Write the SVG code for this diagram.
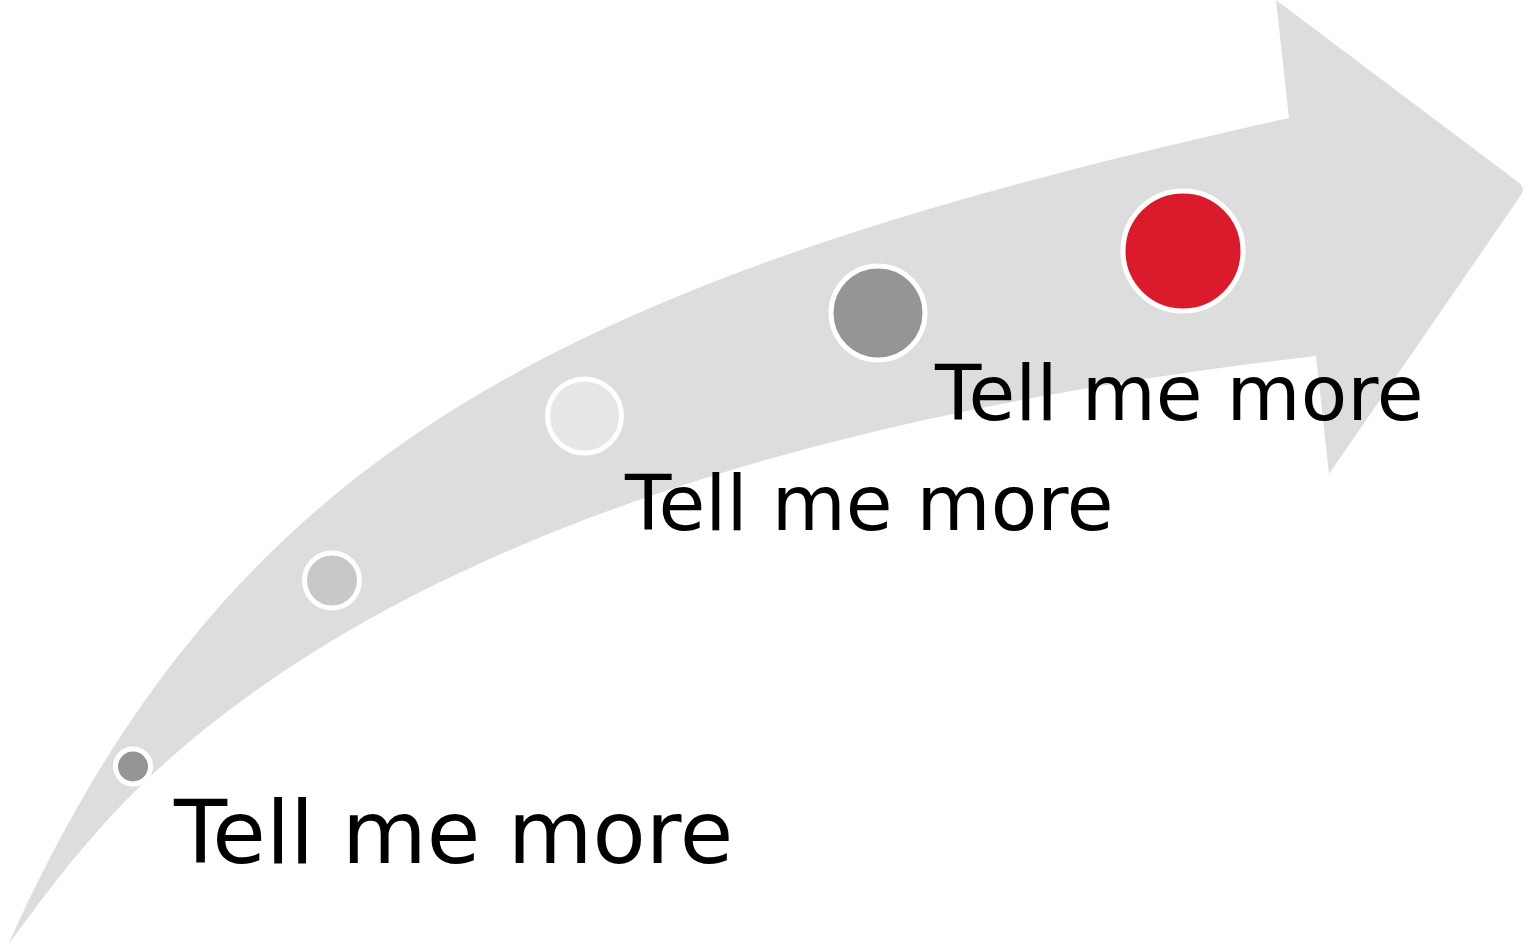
<svg xmlns="http://www.w3.org/2000/svg" width="1524" height="948" viewBox="0 0 1524 948">
<style>
.lbl{font-family:"DejaVu Sans",Verdana,sans-serif;fill:#000}
.dot{stroke:#fff;stroke-width:5}
</style>
<rect width="1524" height="948" fill="#fff"/>
<g id="arrow">
<path d="M8,945 C230,450 560,280 1289,118 L1276,0 L1518,182 Q1526,188 1521,195 L1329,474 L1316,356 C769,418 405,558 182,748 C101,817 50,888 8,945 Z" fill="#dddddd"/>
</g>
<g id="dot1"><circle class="dot" cx="133" cy="766.5" r="17.5" fill="#959595"/></g>
<g id="dot2"><circle class="dot" cx="332" cy="580.5" r="27.5" fill="#c8c8c8"/></g>
<g id="dot3"><circle class="dot" cx="584.5" cy="416" r="37" fill="#e6e6e6"/></g>
<g id="dot4"><circle class="dot" cx="878" cy="313" r="47" fill="#959595"/></g>
<g id="dot5"><circle class="dot" cx="1183" cy="251" r="60" fill="#da1b2c"/></g>
<g id="label1"><text class="lbl" x="174" y="863" font-size="87">Tell me more</text></g>
<g id="label2"><text class="lbl" x="625" y="530" font-size="76">Tell me more</text></g>
<g id="label3"><text class="lbl" x="935" y="420" font-size="76">Tell me more</text></g>
</svg>
